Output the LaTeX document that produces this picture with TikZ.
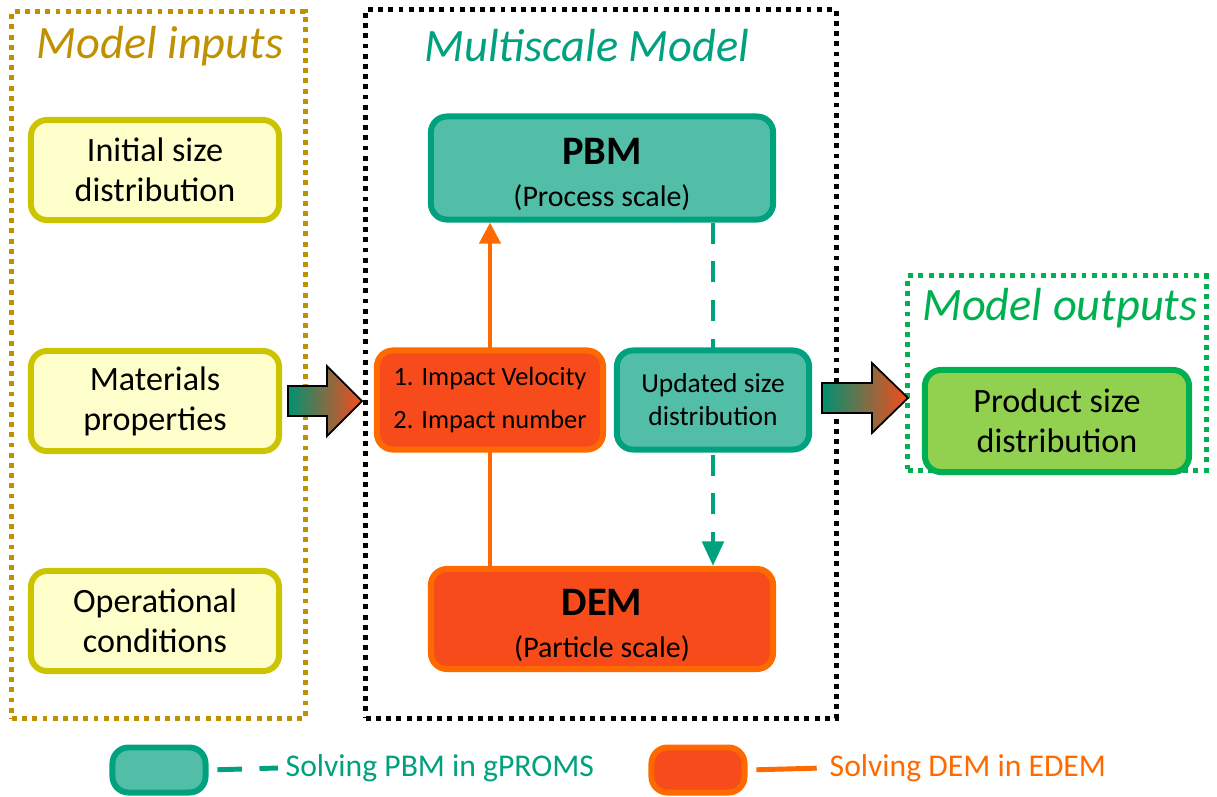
\documentclass[tikz,border=0pt]{standalone}
\usepackage{fontspec}
\setmainfont{Carlito}
\usetikzlibrary{arrows.meta,backgrounds}
\definecolor{gold}{HTML}{BF9000}
\definecolor{inline}{HTML}{CCC400}
\definecolor{infill}{HTML}{FFFFCC}
\definecolor{pbmline}{HTML}{00A17F}
\definecolor{pbmfill}{HTML}{52BEA8}
\definecolor{demline}{HTML}{FF6A00}
\definecolor{demfill}{HTML}{F84B1B}
\definecolor{prodline}{HTML}{00B050}
\definecolor{prodfill}{HTML}{92D050}
\begin{document}
\begin{tikzpicture}[x=0.01cm,y=-0.01cm,
    box/.style={draw,line width=1.7pt,rounded corners=0.16cm,align=center,inner sep=0pt},
    inbox/.style={box,draw=inline,fill=infill,minimum width=2.48cm,minimum height=1.0cm,
      font=\fontsize{9.7}{11.4}\selectfont},
    pbmbox/.style={box,draw=pbmline,fill=pbmfill},
    dembox/.style={box,draw=demline,fill=demfill},
    frame/.style={line width=1.4pt,dash pattern=on 1.4pt off 1.5pt,inner sep=0pt},
    title/.style={font=\fontsize{13.2}{15}\selectfont\itshape},
    blockarrow/.style={draw=black,line width=0.5pt,left color=pbmline!90!black,right color=demfill}]
  \useasboundingbox (0,0) rectangle (1217,796);

  % frames
  \node[frame,draw=gold,minimum width=2.93cm,minimum height=7.06cm] (inframe) at (158.5,365) {};
  \node[frame,draw=black,minimum width=4.70cm,minimum height=7.08cm] (msframe) at (601,364) {};
  \node[frame,draw=prodline,minimum width=2.98cm,minimum height=1.94cm] (outframe) at (1057,373) {};
  \node[title,text=gold] (intitle) at (160,46) {Model inputs};
  \node[title,text=pbmline] (mstitle) at (587,46) {Multiscale Model};
  \node[title,text=prodline] (outtitle) at (1060,308) {Model outputs};

  % inputs
  \node[inbox] (init) at (155,170) {Initial size\\distribution};
  \node[inbox] (mat) at (155,401) {Materials\\properties};
  \node[inbox] (oper) at (155,621) {Operational\\conditions};

  % multiscale model
  \node[pbmbox,minimum width=3.42cm,minimum height=1.03cm] (pbm) at (602,168)
    {{\fontsize{11.5}{13}\selectfont\bfseries\rule{0pt}{11pt}PBM}\\[0pt]{\fontsize{8.5}{10}\selectfont (Process scale)}};
  \node[dembox,minimum width=3.42cm,minimum height=1.0cm] (dem) at (602,619)
    {{\fontsize{11.5}{13}\selectfont\bfseries\rule{0pt}{11pt}DEM}\\[0pt]{\fontsize{8.5}{10}\selectfont (Particle scale)}};
  \node[dembox,minimum width=2.26cm,minimum height=0.99cm,font=\fontsize{7.5}{12}\selectfont] (impact) at (490,400)
    {1. Impact Velocity\\2. Impact number};
  \node[pbmbox,minimum width=1.92cm,minimum height=0.99cm,font=\fontsize{7.8}{9.4}\selectfont] (upd) at (713,400)
    {Updated size\\distribution};

  \begin{scope}[on background layer]
    \draw[demline,line width=1.2pt,-{Triangle[length=6pt,width=6pt]}] (impact.center |- dem.north) -- (impact.center |- pbm.south);
    \draw[pbmline,line width=1.4pt,dash pattern=on 6pt off 5pt,-{Triangle[length=7pt,width=6pt]}] (upd.center |- pbm.south) -- (upd.center |- dem.north);
  \end{scope}

  % output
  \node[box,draw=prodline,fill=prodfill,minimum width=2.64cm,minimum height=1.02cm,
    font=\fontsize{9.7}{11.4}\selectfont] (prod) at (1057,421) {Product size\\distribution};

  % block arrows
  \shadedraw[blockarrow] (288,386) -- (327,386) -- (327,366) -- (362,401) -- (327,436) -- (327,416) -- (288,416) -- cycle;
  \shadedraw[blockarrow] (822,383) -- (872,383) -- (872,363) -- (908,398) -- (872,433) -- (872,413) -- (822,413) -- cycle;

  % legend
  \node[pbmbox,minimum width=0.93cm,minimum height=0.45cm] (lgpbm) at (159,770) {};
  \node[anchor=west,text=pbmline,font=\fontsize{9}{11}\selectfont,inner sep=2pt] (lgpbmtxt) at (278,768) {Solving PBM in gPROMS};
  \draw[pbmline,line width=1.4pt,dash pattern=on 7pt off 5pt,shorten <=2.5pt] (lgpbm.east) -- (lgpbmtxt.west);
  \node[dembox,minimum width=0.93cm,minimum height=0.45cm] (lgdem) at (698,770) {};
  \node[anchor=west,text=demline,font=\fontsize{9}{11}\selectfont,inner sep=2pt] (lgdemtxt) at (822,768) {Solving DEM in EDEM};
  \draw[demline,line width=1.4pt,shorten <=2.5pt,shorten >=1.5pt] (lgdem.east) -- (lgdemtxt.west);
\end{tikzpicture}
\end{document}
